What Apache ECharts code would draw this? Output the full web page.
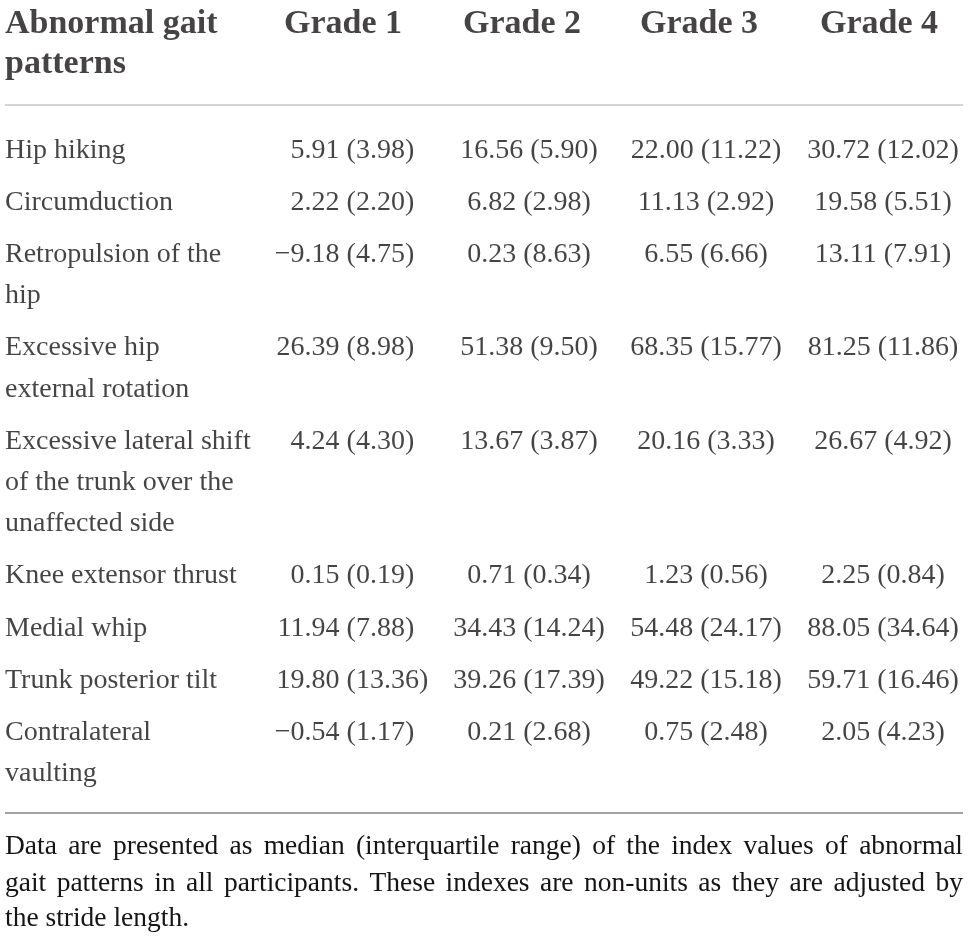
<!DOCTYPE html>
<html><head><meta charset="utf-8">
<script src="https://cdn.jsdelivr.net/npm/echarts@6/dist/echarts.min.js"></script>
<style>html,body{margin:0;padding:0;background:#fff}#c{width:968px;height:940px}</style>
</head><body><div id="c"></div>
<script>
// ---------- data ----------
const headerLabel = 'Abnormal gait\npatterns';
const gradeLabels = ['Grade 1', 'Grade 2', 'Grade 3', 'Grade 4'];
const rowLabels = [
  'Hip hiking',
  'Circumduction',
  'Retropulsion of the\nhip',
  'Excessive hip\nexternal rotation',
  'Excessive lateral shift\nof the trunk over the\nunaffected side',
  'Knee extensor thrust',
  'Medial whip',
  'Trunk posterior tilt',
  'Contralateral\nvaulting'
];
const grade1Median = [5.91, 2.22, -9.18, 26.39, 4.24, 0.15, 11.94, 19.80, -0.54];
const grade1IQR    = [3.98, 2.20, 4.75, 8.98, 4.30, 0.19, 7.88, 13.36, 1.17];
const grade2Median = [16.56, 6.82, 0.23, 51.38, 13.67, 0.71, 34.43, 39.26, 0.21];
const grade2IQR    = [5.90, 2.98, 8.63, 9.50, 3.87, 0.34, 14.24, 17.39, 2.68];
const grade3Median = [22.00, 11.13, 6.55, 68.35, 20.16, 1.23, 54.48, 49.22, 0.75];
const grade3IQR    = [11.22, 2.92, 6.66, 15.77, 3.33, 0.56, 24.17, 15.18, 2.48];
const grade4Median = [30.72, 19.58, 13.11, 81.25, 26.67, 2.25, 88.05, 59.71, 2.05];
const grade4IQR    = [12.02, 5.51, 7.91, 11.86, 4.92, 0.84, 34.64, 16.46, 4.23];
const footnoteLines = [
  'Data are presented as median (interquartile range) of the index values of abnormal',
  'gait patterns in all participants. These indexes are non-units as they are adjusted by',
  'the stride length.'
];

// ---------- layout / style ----------
const SERIF = '"Liberation Serif", "Times New Roman", serif';
const INK = '#161414';
const BODY_SIZE = 28, HEAD_SIZE = 34, NOTE_SIZE = 27.5;
const PX_PER_LINE = 41.3;
const Y_MAX = 940 / PX_PER_LINE;
const X_MIN = -0.878, X_MAX = 4.444;
const HEADER_Y = 0.58, HEADER_STEP = 0.97;
const FIRST_ROW_Y = 3.64, ROW_GAP = 0.262;
const TOP_RULE_Y = 2.54, BOTTOM_RULE_Y = 19.685;
const DATA_OFFSET = [0, 6, 3, 0];
const HEAD_OFFSET = [0, -1, -4, -4];
const SPLIT_COL = [true, false, false, false];
const SPLIT_HALF_GAP = 3.5;
const NOTE_LEFT = 5, NOTE_WIDTH = 958, NOTE_Y = [847, 884, 919];

const medians = [grade1Median, grade2Median, grade3Median, grade4Median];
const iqrs = [grade1IQR, grade2IQR, grade3IQR, grade4IQR];

function fmt(v) { return (v < 0 ? '\u2212' : '') + Math.abs(v).toFixed(2); }

const rowY = [];
let yCursor = FIRST_ROW_Y;
rowLabels.forEach(l => { rowY.push(yCursor); yCursor += l.split('\n').length + ROW_GAP; });

const rowLabelData = [];
rowLabels.forEach((l, i) => l.split('\n').forEach((ln, k) =>
  rowLabelData.push({ name: ln, value: [X_MIN, rowY[i] + k] })));

const headerData = [];
headerLabel.split('\n').forEach((ln, k) =>
  headerData.push({ name: ln, value: [X_MIN, HEADER_Y + k * HEADER_STEP], label: { align: 'left' } }));
gradeLabels.forEach((g, j) =>
  headerData.push({ name: g, value: [j + 1, HEADER_Y], label: { align: 'center', offset: [HEAD_OFFSET[j], 0] } }));

const centerData = [], leftPartData = [], rightPartData = [];
medians.forEach((col, j) => col.forEach((m, i) => {
  const pos = [j + 1, rowY[i]];
  if (SPLIT_COL[j]) {
    leftPartData.push({ name: fmt(m), value: pos, label: { offset: [DATA_OFFSET[j] - SPLIT_HALF_GAP, 0] } });
    rightPartData.push({ name: '(' + fmt(iqrs[j][i]) + ')', value: pos, label: { offset: [DATA_OFFSET[j] + SPLIT_HALF_GAP, 0] } });
  } else {
    centerData.push({ name: fmt(m) + ' (' + fmt(iqrs[j][i]) + ')', value: pos, label: { offset: [DATA_OFFSET[j], 0] } });
  }
}));

function textSeries(name, data, align, size, weight, extra) {
  return Object.assign({
    name, type: 'scatter', data, symbolSize: 1, silent: true,
    itemStyle: { color: 'rgba(0,0,0,0)' },
    label: {
      show: true, position: 'inside', formatter: '{b}', align, verticalAlign: 'middle',
      fontFamily: SERIF, fontSize: size, fontWeight: weight, color: INK,
      textBorderWidth: 0, textBorderColor: 'transparent', textShadowBlur: 0
    }
  }, extra || {});
}

// justified footnote (word positions measured with canvas)
const ctx = document.createElement('canvas').getContext('2d');
const noteFont = NOTE_SIZE + 'px ' + SERIF;
ctx.font = noteFont;
const noteGraphics = [];
footnoteLines.forEach((line, li) => {
  const words = line.split(' ');
  const last = li === footnoteLines.length - 1;
  const widths = words.map(w => ctx.measureText(w).width);
  const total = widths.reduce((a, b) => a + b, 0);
  const gap = last ? ctx.measureText(' ').width : (NOTE_WIDTH - total) / (words.length - 1);
  let x = NOTE_LEFT;
  words.forEach((w, k) => {
    noteGraphics.push({ type: 'text', x, y: NOTE_Y[li], silent: true,
      style: { text: w, font: noteFont, fill: INK, align: 'left', verticalAlign: 'middle' } });
    x += widths[k] + gap;
  });
});

const chart = echarts.init(document.getElementById('c'), null, { renderer: 'canvas' });
chart.setOption({
  animation: false,
  backgroundColor: '#ffffff',
  grid: { left: 5, right: 5, top: 0, bottom: 0 },
  xAxis: { type: 'value', min: X_MIN, max: X_MAX, show: false },
  yAxis: { type: 'value', inverse: true, min: 0, max: Y_MAX, show: false },
  series: [
    textSeries('header', headerData, 'left', HEAD_SIZE, 'bold', {
      markLine: {
        silent: true, symbol: ['none', 'none'], label: { show: false },
        data: [
          { yAxis: TOP_RULE_Y, lineStyle: { color: '#c4c4c4', width: 1.5, type: 'solid' } },
          { yAxis: BOTTOM_RULE_Y, lineStyle: { color: '#808080', width: 1.5, type: 'solid' } }
        ]
      }
    }),
    textSeries('rows', rowLabelData, 'left', BODY_SIZE, 'normal'),
    textSeries('values', centerData, 'center', BODY_SIZE, 'normal'),
    textSeries('valuesLeft', leftPartData, 'right', BODY_SIZE, 'normal'),
    textSeries('valuesRight', rightPartData, 'left', BODY_SIZE, 'normal')
  ],
  graphic: noteGraphics
});
</script>
</body></html>
